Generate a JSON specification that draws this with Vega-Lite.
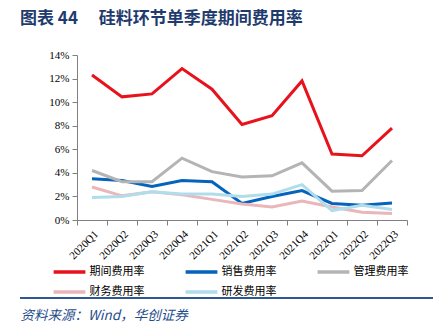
{
  "$schema": "https://vega.github.io/schema/vega-lite/v6.json",
  "width": 330,
  "height": 165,
  "autosize": {"type": "none"},
  "padding": {"left": 77, "top": 55, "right": 39, "bottom": 116},
  "background": "white",
  "config": {"view": {"stroke": null}},
  "title": {
    "text": "图表 44　 硅料环节单季度期间费用率",
    "anchor": "start",
    "frame": "group",
    "dx": -57,
    "offset": 21,
    "font": "Noto Sans CJK SC",
    "fontSize": 17,
    "fontWeight": "bold",
    "color": "#1F3B6E"
  },
  "data": {
    "values": [
      {"q": "2020Q1", "s": "期间费用率", "v": 12.3},
      {"q": "2020Q2", "s": "期间费用率", "v": 10.45},
      {"q": "2020Q3", "s": "期间费用率", "v": 10.7},
      {"q": "2020Q4", "s": "期间费用率", "v": 12.85},
      {"q": "2021Q1", "s": "期间费用率", "v": 11.1},
      {"q": "2021Q2", "s": "期间费用率", "v": 8.1},
      {"q": "2021Q3", "s": "期间费用率", "v": 8.85},
      {"q": "2021Q4", "s": "期间费用率", "v": 11.8},
      {"q": "2022Q1", "s": "期间费用率", "v": 5.6},
      {"q": "2022Q2", "s": "期间费用率", "v": 5.45},
      {"q": "2022Q3", "s": "期间费用率", "v": 7.8},
      {"q": "2020Q1", "s": "销售费用率", "v": 3.5},
      {"q": "2020Q2", "s": "销售费用率", "v": 3.35},
      {"q": "2020Q3", "s": "销售费用率", "v": 2.85},
      {"q": "2020Q4", "s": "销售费用率", "v": 3.35},
      {"q": "2021Q1", "s": "销售费用率", "v": 3.25},
      {"q": "2021Q2", "s": "销售费用率", "v": 1.4},
      {"q": "2021Q3", "s": "销售费用率", "v": 2.0},
      {"q": "2021Q4", "s": "销售费用率", "v": 2.5},
      {"q": "2022Q1", "s": "销售费用率", "v": 1.4},
      {"q": "2022Q2", "s": "销售费用率", "v": 1.25},
      {"q": "2022Q3", "s": "销售费用率", "v": 1.45},
      {"q": "2020Q1", "s": "管理费用率", "v": 4.2},
      {"q": "2020Q2", "s": "管理费用率", "v": 3.25},
      {"q": "2020Q3", "s": "管理费用率", "v": 3.25},
      {"q": "2020Q4", "s": "管理费用率", "v": 5.25},
      {"q": "2021Q1", "s": "管理费用率", "v": 4.1},
      {"q": "2021Q2", "s": "管理费用率", "v": 3.65},
      {"q": "2021Q3", "s": "管理费用率", "v": 3.75},
      {"q": "2021Q4", "s": "管理费用率", "v": 4.85},
      {"q": "2022Q1", "s": "管理费用率", "v": 2.45},
      {"q": "2022Q2", "s": "管理费用率", "v": 2.5},
      {"q": "2022Q3", "s": "管理费用率", "v": 5.05},
      {"q": "2020Q1", "s": "财务费用率", "v": 2.8},
      {"q": "2020Q2", "s": "财务费用率", "v": 2.05},
      {"q": "2020Q3", "s": "财务费用率", "v": 2.4},
      {"q": "2020Q4", "s": "财务费用率", "v": 2.15},
      {"q": "2021Q1", "s": "财务费用率", "v": 1.75},
      {"q": "2021Q2", "s": "财务费用率", "v": 1.35},
      {"q": "2021Q3", "s": "财务费用率", "v": 1.1},
      {"q": "2021Q4", "s": "财务费用率", "v": 1.6},
      {"q": "2022Q1", "s": "财务费用率", "v": 1.1},
      {"q": "2022Q2", "s": "财务费用率", "v": 0.65},
      {"q": "2022Q3", "s": "财务费用率", "v": 0.55},
      {"q": "2020Q1", "s": "研发费用率", "v": 1.9},
      {"q": "2020Q2", "s": "研发费用率", "v": 2.0},
      {"q": "2020Q3", "s": "研发费用率", "v": 2.4},
      {"q": "2020Q4", "s": "研发费用率", "v": 2.2},
      {"q": "2021Q1", "s": "研发费用率", "v": 2.2},
      {"q": "2021Q2", "s": "研发费用率", "v": 2.0},
      {"q": "2021Q3", "s": "研发费用率", "v": 2.2},
      {"q": "2021Q4", "s": "研发费用率", "v": 3.0},
      {"q": "2022Q1", "s": "研发费用率", "v": 0.8},
      {"q": "2022Q2", "s": "研发费用率", "v": 1.25},
      {"q": "2022Q3", "s": "研发费用率", "v": 0.9}
    ]
  },
  "layer": [
    {
      "mark": {"type": "line", "strokeWidth": 3},
      "encoding": {
        "x": {
          "field": "q",
          "type": "ordinal",
          "scale": {"paddingInner": 0, "paddingOuter": 0},
          "axis": {
            "title": "资料来源：Wind，华创证券",
            "titleFont": "Noto Sans CJK SC",
            "titleFontStyle": "italic",
            "titleFontWeight": "normal",
            "titleFontSize": 13.5,
            "titleColor": "#1F4E8C",
            "titleAnchor": "start",
            "titleAlign": "left",
            "titleBaseline": "middle",
            "titleX": -57,
            "titleY": 95,
            "labelAngle": -45,
            "labelFont": "Liberation Serif",
            "labelFontSize": 11,
            "labelColor": "#000000",
            "domainColor": "#808080",
            "tickColor": "#808080",
            "tickBand": "extent",
            "tickSize": 5,
            "labelPadding": 3
          }
        },
        "y": {
          "field": "v",
          "type": "quantitative",
          "scale": {"domain": [0, 14]},
          "axis": {
            "title": null,
            "values": [0, 2, 4, 6, 8, 10, 12, 14],
            "labelExpr": "datum.value + '%'",
            "labelFont": "Liberation Serif",
            "labelFontSize": 11,
            "labelColor": "#000000",
            "grid": false,
            "domainColor": "#808080",
            "tickColor": "#808080",
            "tickSize": 5,
            "labelPadding": 3
          }
        },
        "color": {
          "field": "s",
          "type": "nominal",
          "scale": {
            "domain": ["期间费用率", "销售费用率", "管理费用率", "财务费用率", "研发费用率"],
            "range": ["#E8121C", "#0563BB", "#B4B4B4", "#E9B6BA", "#B0DDEB"]
          },
          "legend": {
            "title": null,
            "orient": "none",
            "legendX": -15.5,
            "legendY": 209,
            "columns": 3,
            "direction": "horizontal",
            "gridAlign": "all",
            "symbolType": "M-2.65,0H2.65",
            "symbolSize": 144,
            "symbolStrokeWidth": 3.5,
            "labelFont": "Noto Sans CJK SC",
            "labelFontSize": 11,
            "labelColor": "#000000",
            "columnPadding": 34,
            "rowPadding": 5,
            "labelOffset": 12
          }
        },
        "order": {"field": "s"}
      }
    },
    {
      "data": {"values": [{"y": "top"}, {"y": "bottom"}]},
      "mark": {"type": "rule", "color": "#1F4E8C", "strokeWidth": 1.5},
      "encoding": {
        "x": {"value": -57},
        "x2": {"value": 356},
        "y": {"condition": {"test": "datum.y == 'top'", "value": -11}, "value": 243}
      }
    }
  ]
}
